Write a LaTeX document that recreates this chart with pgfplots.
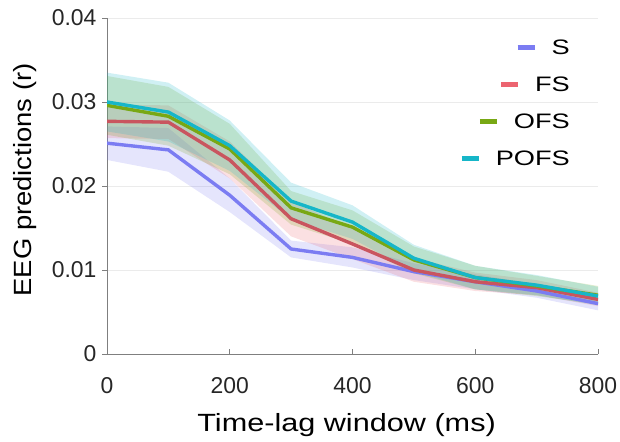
\documentclass[border=0pt]{standalone}
\usepackage{pgfplots}
\pgfplotsset{compat=1.18}
\usepackage{pgfplotstable}
\usepgfplotslibrary{fillbetween}
\usepackage{fontspec}
\setmainfont{Liberation Sans}
\newfontfamily\widefont[FakeStretch=1.3]{Liberation Sans}
\newfontfamily\xlabfont[FakeStretch=1.23]{Liberation Sans}
\newfontfamily\ylabfont[FakeStretch=1.1]{Liberation Sans}

\definecolor{cS}{HTML}{7B7CF2}
\definecolor{cFS}{HTML}{EC6470}
\definecolor{cOFS}{HTML}{78A814}
\definecolor{cPOFS}{HTML}{16B6C8}
\definecolor{cAx}{HTML}{7F7F7F}

% mean and half-width of the band for each model
\pgfplotstableread{
t    S      Se     FS     FSe    OFS    OFSe   POFS   POFSe
0    0.0251 0.0020 0.0277 0.0020 0.0296 0.0035 0.0300 0.0035
100  0.0243 0.0026 0.0276 0.0020 0.0283 0.0035 0.0288 0.0035
200  0.0189 0.0020 0.0231 0.0022 0.0244 0.0030 0.0248 0.0030
300  0.0125 0.0010 0.0161 0.0021 0.0174 0.0020 0.0182 0.0022
400  0.0115 0.0012 0.0131 0.0018 0.0151 0.0020 0.0157 0.0020
500  0.0098 0.0010 0.0100 0.0014 0.0112 0.0016 0.0114 0.0016
600  0.0086 0.0009 0.0086 0.0011 0.0091 0.0014 0.0091 0.0014
700  0.0075 0.0008 0.0079 0.0009 0.0081 0.0012 0.0082 0.0012
800  0.0060 0.0008 0.0065 0.0008 0.0070 0.0011 0.0069 0.0011
}\data

\newcommand{\band}[2]{%
  \addplot[name path=#1u, draw=none, forget plot] table[x=t, y expr=\thisrow{#1}+\thisrow{#1e}] {\data};
  \addplot[name path=#1l, draw=none, forget plot] table[x=t, y expr=\thisrow{#1}-\thisrow{#1e}] {\data};
  \addplot[#2, fill opacity=0.2, draw=none, forget plot] fill between[of=#1u and #1l];
}
\newcommand{\key}[2]{\textcolor{#1}{\rule[5bp]{17bp}{5bp}}\hspace{17bp}#2}

\begin{document}
\begin{tikzpicture}
  \begin{axis}[name=ax,
    scale only axis, width=491bp, height=336bp,
    xmin=0, xmax=800, ymin=0, ymax=0.04,
    xtick={0,200,400,600,800}, ytick={0,0.01,0.02,0.03,0.04},
    yticklabels={0,0.01,0.02,0.03,0.04},
    scaled y ticks=false,
    yticklabel style={anchor=east, xshift=-2bp},
    xticklabel style={yshift=-20bp},
    /pgf/number format/assume math mode=true,
    ticklabel style={font=\fontsize{23}{26}\selectfont, text=black!85},
    xlabel={Time-lag window (ms)}, ylabel={EEG predictions (r)},
    every axis x label/.style={at={(axis description cs:0.488,0)}, anchor=center,
        yshift=-71bp, font=\xlabfont\fontsize{25}{28}\selectfont},
    every axis y label/.style={at={(axis description cs:0,0.518)}, anchor=center,
        xshift=-82bp, rotate=90, font=\ylabfont\fontsize{25}{28}\selectfont},
    axis lines=left, axis line style={cAx, line width=1bp, -},
    ymajorgrids, grid style={black!8, line width=0.8bp},
    tick style={cAx, line width=1bp}, major tick length=5bp,
    xtick align=inside, ytick align=outside,
    legend cell align=right,
    legend image code/.code={},
    legend style={at={(0.943,0.935)}, anchor=north east, draw=none, fill=none,
                  font=\widefont\fontsize{21}{24}\selectfont, row sep=21bp,
                  inner sep=0pt, nodes={inner sep=0pt}},
  ]
    \band{S}{cS}
    \band{FS}{cFS}
    \band{OFS}{cOFS}
    \band{POFS}{cPOFS}
    \addplot[cS, line width=3.4bp] table[x=t, y=S] {\data};
    \addlegendentry{\key{cS}{S}}
    \addplot[cFS!85!black, line width=3.4bp] table[x=t, y=FS] {\data};
    \addlegendentry{\key{cFS}{FS}}
    \addplot[cOFS, line width=3.4bp] table[x=t, y=OFS] {\data};
    \addlegendentry{\key{cOFS}{OFS}}
    \addplot[cPOFS, line width=3.4bp] table[x=t, y=POFS] {\data};
    \addlegendentry{\key{cPOFS}{POFS}}
  \end{axis}
  \pgfresetboundingbox
  \path ([xshift=-107bp,yshift=-87bp]ax.south west) rectangle ([xshift=22bp,yshift=18bp]ax.north east);
\end{tikzpicture}
\end{document}
